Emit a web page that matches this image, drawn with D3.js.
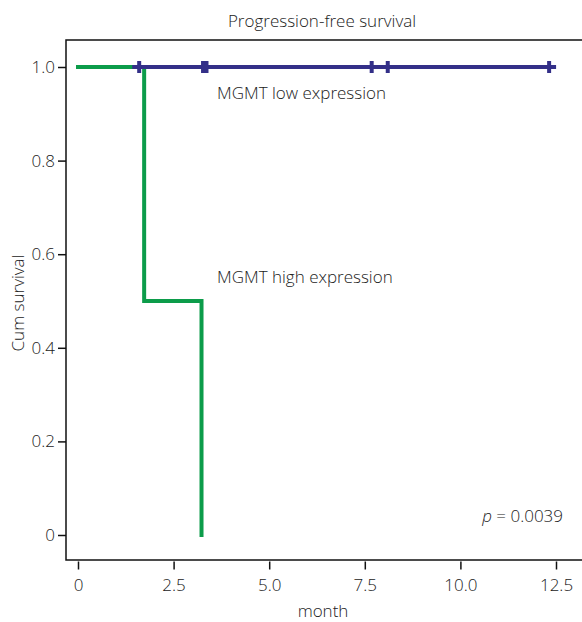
<!DOCTYPE html>
<html lang="en">
<head>
<meta charset="utf-8">
<title>Progression-free survival</title>
<script src="https://d3js.org/d3.v7.min.js"></script>
<style>
  body { margin: 0; background: #fff; }
  text { font-family: "Open Sans", "Noto Sans", sans-serif; font-weight: 300; fill: #222; }
</style>
</head>
<body>
<div id="chart"></div>
<script>
// data
var xTicks = [0, 2.5, 5, 7.5, 10, 12.5];
var xTickLabels = ["0", "2.5", "5.0", "7.5", "10.0", "12.5"];
var yTicks = [0, 0.2, 0.4, 0.6, 0.8, 1.0];
var yTickLabels = ["0", "0.2", "0.4", "0.6", "0.8", "1.0"];

// step curves: [month, cum survival]
var highSteps = [[0, 1], [1.73, 1], [1.73, 0.5], [3.23, 0.5], [3.23, 0]];
var lowSteps = [[1.47, 1], [12.45, 1]];
var lowCensored = [1.6, 3.27, 3.36, 7.68, 8.1, 12.32];

var w = 582, h = 622;
var svg = d3.select("#chart").append("svg")
  .attr("width", w)
  .attr("height", h);

var x = d3.scaleLinear().domain([0, 12.5]).range([78, 556]);
var y = d3.scaleLinear().domain([0, 1]).range([535, 67]);

var frameLeft = 66, frameTop = 40, frameBottom = 560;

// frame (right side runs off the canvas)
svg.append("rect")
  .attr("x", frameLeft)
  .attr("y", frameTop)
  .attr("width", 600 - frameLeft)
  .attr("height", frameBottom - frameTop)
  .attr("fill", "none")
  .attr("stroke", "#111")
  .attr("stroke-width", 1.5);

// axes
svg.append("g")
  .attr("transform", "translate(0," + (frameBottom + 1.5) + ")")
  .call(d3.axisBottom(x).tickValues(xTicks)
    .tickFormat(function(d, i) { return xTickLabels[i]; })
    .tickSize(8).tickPadding(9));

svg.append("g")
  .attr("transform", "translate(" + frameLeft + ",0)")
  .call(d3.axisLeft(y).tickValues(yTicks)
    .tickFormat(function(d, i) { return yTickLabels[i]; })
    .tickSize(8).tickPadding(3));

svg.selectAll(".domain").remove();
svg.selectAll(".tick line").attr("stroke", "#111").attr("stroke-width", 1.5);
svg.selectAll(".tick text").style("font-size", "17px").attr("fill", "#222");

var line = d3.line()
  .x(function(d) { return x(d[0]); })
  .y(function(d) { return y(d[1]); });

svg.append("path")
  .datum(highSteps)
  .attr("d", line)
  .attr("fill", "none")
  .attr("stroke", "#0c9c4a")
  .attr("stroke-width", 4)
  .attr("stroke-linecap", "square");

svg.append("path")
  .datum(lowSteps)
  .attr("d", line)
  .attr("fill", "none")
  .attr("stroke", "#332f88")
  .attr("stroke-width", 4)
  .attr("stroke-linecap", "square");

svg.selectAll(".censor")
  .data(lowCensored)
  .enter()
  .append("line")
  .attr("class", "censor")
  .attr("x1", function(d) { return x(d); })
  .attr("x2", function(d) { return x(d); })
  .attr("y1", y(1) - 6)
  .attr("y2", y(1) + 6)
  .attr("stroke", "#332f88")
  .attr("stroke-width", 4);

// labels
svg.append("text")
  .attr("x", 322).attr("y", 27)
  .attr("text-anchor", "middle")
  .style("font-size", "17px")
  .text("Progression-free survival");

svg.append("text")
  .attr("x", 323).attr("y", 617)
  .attr("text-anchor", "middle")
  .style("font-size", "17px")
  .text("month");

svg.append("text")
  .attr("transform", "translate(24,303) rotate(-90)")
  .attr("text-anchor", "middle")
  .style("font-size", "17px")
  .text("Cum survival");

svg.append("text")
  .attr("x", 217).attr("y", 99)
  .style("font-size", "17px")
  .text("MGMT low expression");

svg.append("text")
  .attr("x", 217).attr("y", 283)
  .style("font-size", "17px")
  .text("MGMT high expression");

var pText = svg.append("text")
  .attr("x", 563).attr("y", 522)
  .attr("text-anchor", "end")
  .style("font-size", "17px");
pText.append("tspan").style("font-style", "italic").text("p");
pText.append("tspan").text(" = 0.0039");
</script>
</body>
</html>
